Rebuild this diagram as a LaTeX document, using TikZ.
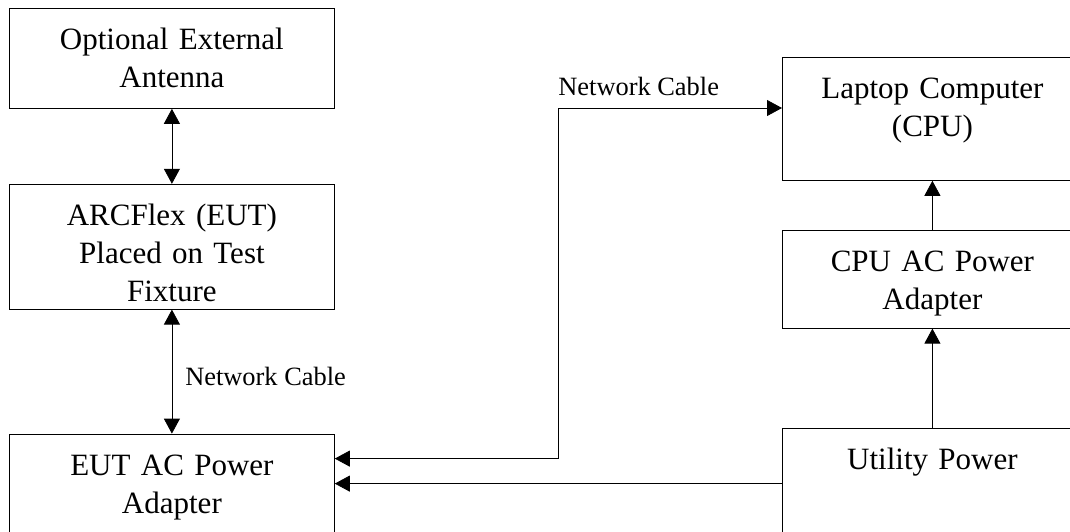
\documentclass[tikz,border=0pt]{standalone}
\usepackage{fontspec}
\setmainfont{Liberation Serif}
\usetikzlibrary{positioning, arrows.meta}
\tikzset{
    >={Triangle[length=7.5pt, width=8pt]}, % solid arrow heads
    line width=0.85pt,
    box/.style={draw, align=center, inner sep=0pt, text height=20.5pt,
        font=\fontsize{15.5}{19}\selectfont}, % text sits at the top of each box
    lbl/.style={inner sep=0pt, font=\fontsize{13.2}{16}\selectfont},
}
\begin{document}
\begin{tikzpicture}
        \useasboundingbox (0,0) rectangle (535pt,-265.5pt);

        % left column
        \node[box, text width=162.5pt, text depth=29.5pt, anchor=north west] (ANT) at (4.5pt,-4pt) {Optional External\\Antenna};
        \node[box, text width=162.5pt, text depth=42pt, below=37.5pt of ANT] (ARC) {ARCFlex (EUT)\\Placed on Test\\Fixture};
        \node[box, text width=162.5pt, text depth=30.5pt, below=62pt of ARC] (EUT_PWR) {EUT AC Power\\Adapter};

        % right column
        \node[box, text width=150pt, text depth=41pt, anchor=north west] (CPU) at (391pt,-28.5pt) {Laptop Computer\\(CPU)};
        \node[box, text width=150pt, text depth=28.5pt, below=24.5pt of CPU] (CPU_PWR) {CPU AC Power\\Adapter};
        \node[box, text width=150pt, text depth=34.5pt, below=49.5pt of CPU_PWR] (UTIL) {Utility Power};

        \coordinate (BEND) at (279pt,-54pt);

        % connections
        \draw[<->] (ANT) -- (ARC);
        \draw[<->] (ARC) -- node[lbl, right, xshift=6.5pt, yshift=-2.5pt]{Network Cable} (EUT_PWR);
        \draw[<->] ([yshift=-12.5pt]EUT_PWR.north east) -| (BEND)
                   -- node[lbl, pos=0, anchor=base west, yshift=6.5pt]{Network Cable} ([yshift=-25.5pt]CPU.north west);
        \draw[->] ([yshift=-28pt]UTIL.north west) -- ([yshift=-25pt]EUT_PWR.north east);
        \draw[->] (UTIL) -- (CPU_PWR);
        \draw[->] (CPU_PWR) -- (CPU);
\end{tikzpicture}
\end{document}
